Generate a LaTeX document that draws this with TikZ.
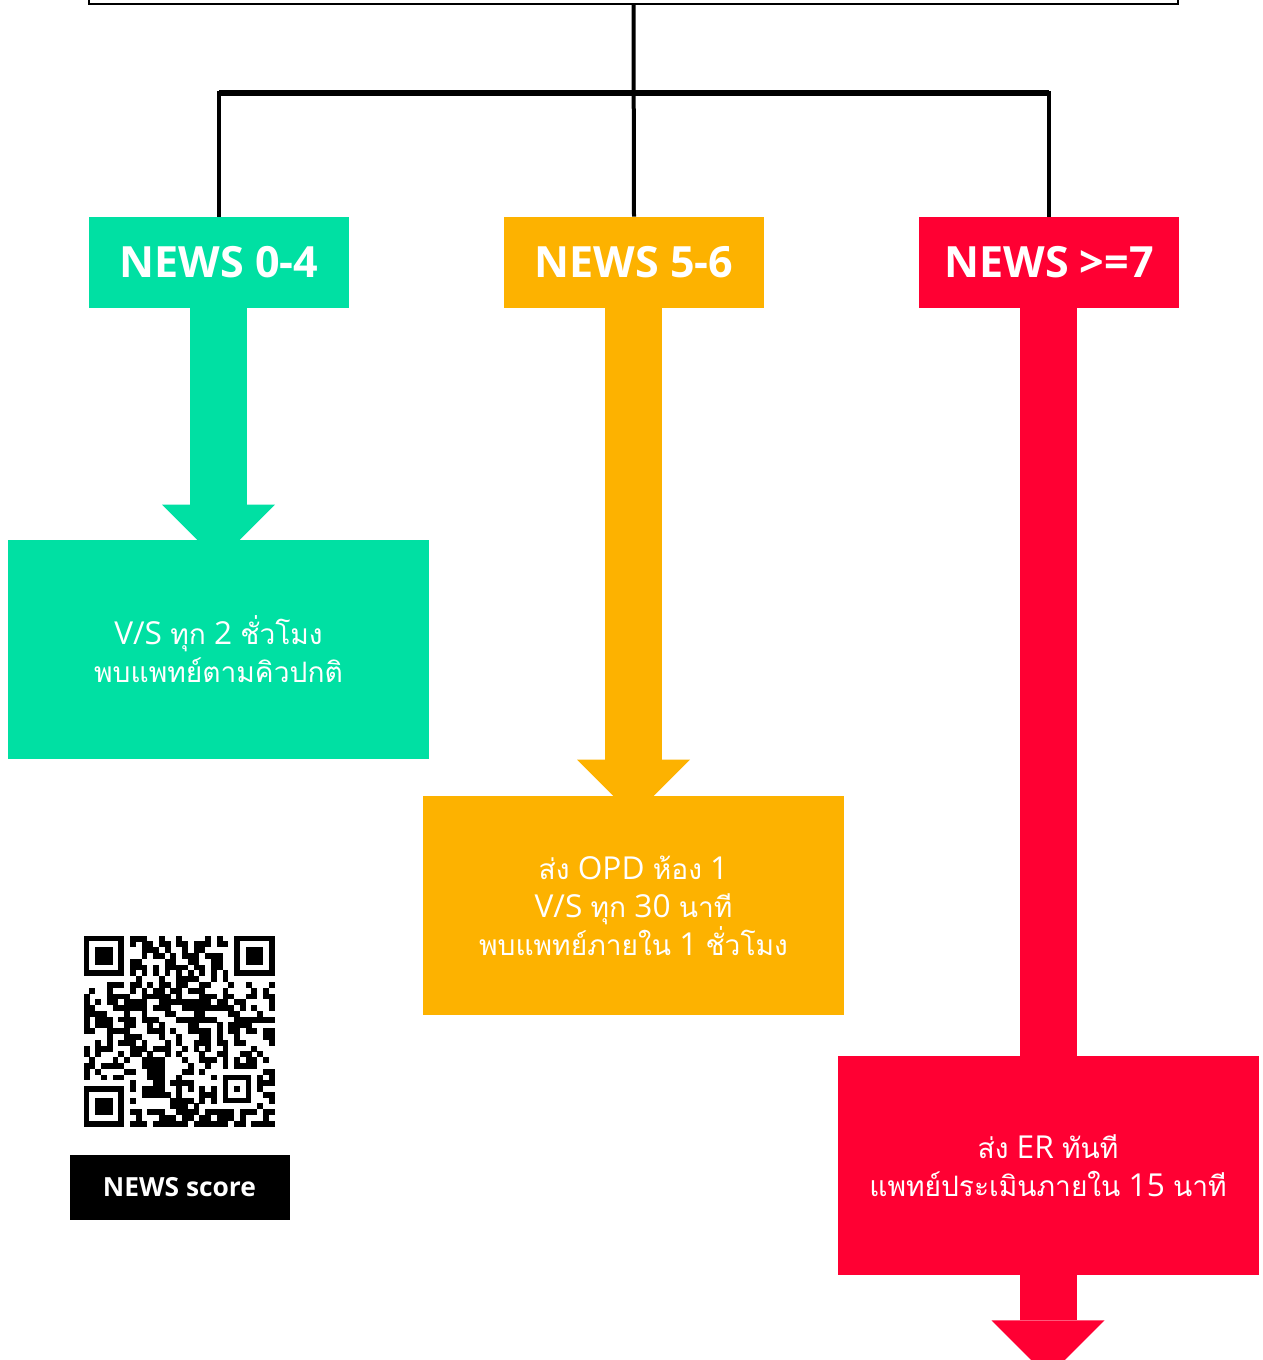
\documentclass[tikz,border=0pt]{standalone}
\usepackage{fontspec}
\setmainfont{Open Sans}
\newfontfamily\thaifont[Script=Thai,Scale=0.89]{Loma}
\usepackage{tikz}
\usetikzlibrary{positioning,calc}

\definecolor{newsgreen}{RGB}{0,224,163}
\definecolor{newsorange}{RGB}{253,178,0}
\definecolor{newsred}{RGB}{255,0,51}

\newlength\pxl
\setlength\pxl{0.02cm}
\newcommand\thai[1]{{\thaifont #1}}

\tikzset{
  header/.style={fill=#1, text=white, minimum width=260\pxl, minimum height=91\pxl,
    inner sep=0pt, font=\bfseries\fontsize{24.5}{30}\selectfont},
  action/.style={fill=#1, text=white, minimum width=421\pxl, minimum height=219\pxl,
    inner sep=0pt, align=center, font=\fontsize{18}{21.6}\selectfont},
  tree/.style={line width=4\pxl},
}

\begin{document}
\begin{tikzpicture}[x=0.02cm, y=-0.02cm]
   \useasboundingbox (0,0) rectangle (1262,1360);

   \node[draw=black, line width=2\pxl, minimum width=1089\pxl, minimum height=120\pxl, inner sep=0pt] (top) at (633.5,-56) {};

   \node[header=newsgreen] (h1) at (219,262.5) {NEWS 0-4};
   \node[header=newsorange] (h2) at (634,262.5) {NEWS 5-6};
   \node[header=newsred] (h3) at (1049,262.5) {NEWS >=7};

   \node[action=newsgreen] (b1) at (218.5,649.5) {V/S \thai{ทุก} 2 \thai{ชั่วโมง}\\\thai{พบแพทย์ตามคิวปกติ}};
   \node[action=newsorange] (b2) at (633.5,905.5) {\thai{ส่ง} OPD \thai{ห้อง} 1\\V/S \thai{ทุก} 30 \thai{นาที}\\\thai{พบแพทย์ภายใน} 1 \thai{ชั่วโมง}};
   \node[action=newsred] (b3) at (1048,1165.5) {\thai{ส่ง} ER \thai{ทันที}\\\thai{แพทย์ประเมินภายใน} 15 \thai{นาที}};

   \coordinate (split) at (h2.north |- 0,93);
   \draw[tree] (top.south) -- (h2.north);
   \draw[tree] (h1.north) |- (split) -| (h3.north);
   \draw[line width=6\pxl] (h1.north |- split) -- (h3.north |- split);

   \fill[newsgreen] ($(b1.north |- h1.south)+(-28.5,0)$) rectangle ($(b1.north)+(28.5,-35)$);
   \fill[newsgreen] ($(b1.north)+(-56.5,-35)$) -- ($(b1.north)+(56.5,-35)$) -- ($(b1.north)+(0,21.5)$) -- cycle;

   \fill[newsorange] ($(b2.north |- h2.south)+(-28.5,0)$) rectangle ($(b2.north)+(28.5,-36)$);
   \fill[newsorange] ($(b2.north)+(-56.5,-36)$) -- ($(b2.north)+(56.5,-36)$) -- ($(b2.north)+(0,20.5)$) -- cycle;

   \fill[newsred] ($(b3.north |- h3.south)+(-28.5,0)$) rectangle ($(b3.north)+(28.5,0)$);
   \fill[newsred] ($(b3.south)+(-28.5,0)$) rectangle ($(b3.south)+(28.5,45)$);
   \fill[newsred] ($(b3.south)+(-56.5,45)$) -- ($(b3.south)+(56.5,45)$) -- ($(b3.south)+(0,101.5)$) -- cycle;

   \node[minimum size=191\pxl, inner sep=0pt] (qr) at (179.5,1031.5) {};
   \begin{scope}[shift={(qr.north west)}, x=0.11576cm, y=-0.11576cm]
     \foreach \i in {0,...,32}{
       \foreach \j in {0,...,32}{
         \pgfmathtruncatemacro\v{mod(mod(\i*\i,23)*7+mod(\j*\j,19)*5+mod(\i*\j,17)*3+\i+2*\j,11)}
         \ifnum\v<6 \fill (\i,\j) rectangle ++(1.02,1.02); \fi
       }
     }
     \fill[white] (0,0) rectangle (8,8);
     \fill[white] (25,0) rectangle (33,8);
     \fill[white] (0,25) rectangle (8,33);
     \foreach \fx/\fy in {0/0,26/0,0/26}{
       \fill (\fx,\fy) rectangle ++(7,7);
       \fill[white] (\fx+1,\fy+1) rectangle ++(5,5);
       \fill (\fx+2,\fy+2) rectangle ++(3,3);
     }
     \fill[white] (8,6) rectangle (25,7);
     \fill[white] (6,8) rectangle (7,25);
     \foreach \k in {8,10,...,24}{
       \fill (\k,6) rectangle ++(1,1);
       \fill (6,\k) rectangle ++(1,1);
     }
     \fill[white] (23,23) rectangle (30,30);
     \fill (24,24) rectangle ++(5,5);
     \fill[white] (25,25) rectangle ++(3,3);
     \fill (26,26) rectangle ++(1,1);
   \end{scope}

   \node[fill=black, text=white, minimum width=220\pxl, minimum height=65\pxl, inner sep=0pt,
     font=\bfseries\fontsize{15}{17}\selectfont, below=27\pxl of qr] (lbl) {NEWS score};

\end{tikzpicture}
\end{document}
